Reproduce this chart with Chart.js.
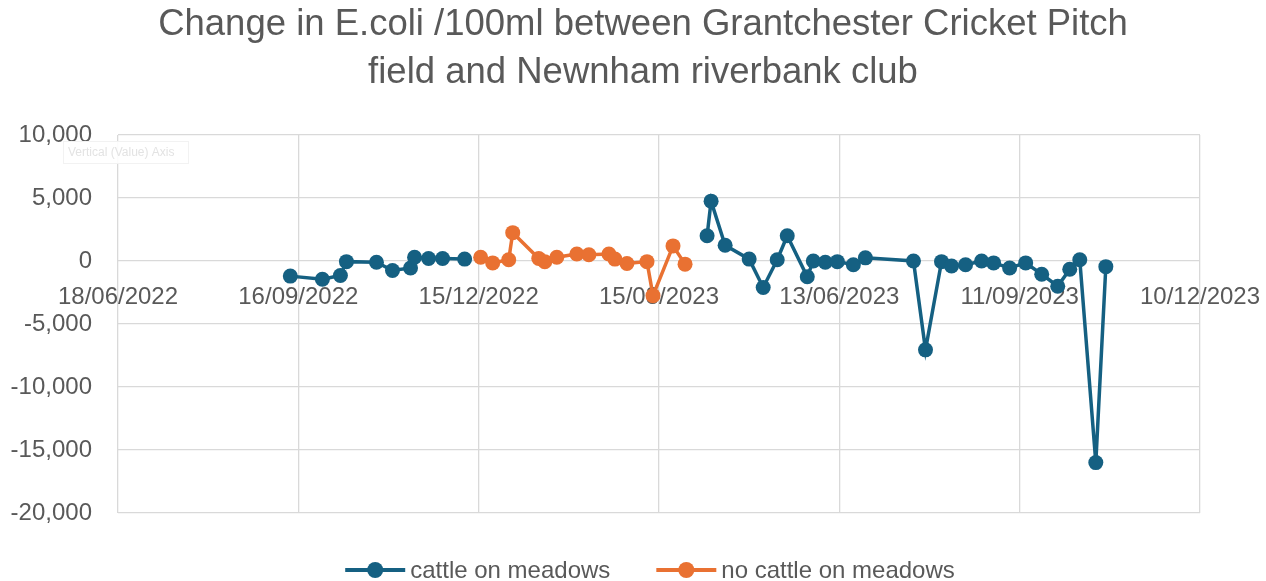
<!DOCTYPE html>
<html>
<head>
<meta charset="utf-8">
<script src="https://cdn.jsdelivr.net/npm/chart.js@4.4.1/dist/chart.umd.min.js"></script>
<style>
  html, body { margin: 0; padding: 0; background: #ffffff; }
  #wrap { width: 1266px; height: 581px; }
</style>
</head>
<body>
<div id="wrap"><canvas id="c" width="1266" height="581"></canvas></div>
<script>
// ---- Data ----
const titleLines = ['Change in E.coli /100ml between Grantchester Cricket Pitch', 'field and Newnham riverbank club'];
const seriesNames = ['cattle on meadows', 'no cattle on meadows'];
const dates = [
  '2022-09-12','2022-09-28','2022-10-07','2022-10-10','2022-10-25','2022-11-02','2022-11-11','2022-11-13','2022-11-20','2022-11-27','2022-12-08',
  '2022-12-16','2022-12-22','2022-12-30','2023-01-01','2023-01-14','2023-01-17','2023-01-23','2023-02-02','2023-02-08','2023-02-18','2023-02-21','2023-02-27','2023-03-09','2023-03-12','2023-03-22','2023-03-28',
  '2023-04-08','2023-04-10','2023-04-17','2023-04-29','2023-05-06','2023-05-13','2023-05-18','2023-05-28','2023-05-31','2023-06-06','2023-06-12','2023-06-20','2023-06-26',
  '2023-07-20','2023-07-26','2023-08-03','2023-08-08','2023-08-15','2023-08-23','2023-08-29','2023-09-06','2023-09-14','2023-09-22','2023-09-30','2023-10-06','2023-10-11','2023-10-19','2023-10-24'
];
const cattle = [
  -1200,-1450,-1150,-50,-100,-750,-550,300,200,200,150,
  null,null,null,null,null,null,null,null,null,null,null,null,null,null,null,null,
  2000,4750,1250,150,-2100,100,2000,-1250,0,-100,-50,-300,250,
  0,-7050,-50,-400,-300,0,-150,-550,-150,-1050,-2000,-650,100,-16000,-450
];
const noCattle = [
  null,null,null,null,null,null,null,null,null,null,null,
  300,-150,100,2250,200,-50,300,550,500,550,150,-200,-50,-2750,1200,-250,
  null,null,null,null,null,null,null,null,null,null,null,null,null,
  null,null,null,null,null,null,null,null,null,null,null,null,null,null,null
];
const xTickDates = ['2022-06-18','2022-09-16','2022-12-15','2023-03-15','2023-06-13','2023-09-11','2023-12-10'];
const yTicks = [-20000,-15000,-10000,-5000,0,5000,10000];

// ---- Helpers ----
const DAY = 86400000;
function dayNum(s) { const p = s.split('-').map(Number); return Date.UTC(p[0], p[1]-1, p[2]) / DAY; }
function fmtDate(v) {
  const d = new Date(Math.round(v) * DAY);
  const dd = String(d.getUTCDate()).padStart(2,'0');
  const mm = String(d.getUTCMonth()+1).padStart(2,'0');
  return dd + '/' + mm + '/' + d.getUTCFullYear();
}
function fmtNum(v) { return v.toLocaleString('en-US'); }

const BLUE = '#156082', ORANGE = '#E97132', TEXT = '#595959', GRID = '#d9d9d9';
const FONT = "'Liberation Sans', Arial, sans-serif";

const decorPlugin = {
  id: 'decor',
  afterDraw(chart) {
    const ctx = chart.ctx;
    ctx.save();
    // Title (two centred lines)
    ctx.fillStyle = TEXT;
    ctx.font = '36.5px ' + FONT;
    ctx.textAlign = 'center';
    ctx.textBaseline = 'alphabetic';
    titleLines.forEach((t, i) => ctx.fillText(t, 643, 35 + i * 48));

    // Legend
    const colors = [BLUE, ORANGE];
    ctx.font = '24px ' + FONT;
    ctx.textAlign = 'left';
    ctx.textBaseline = 'middle';
    const symW = 60, gapT = 5, gapItem = 46;
    const widths = seriesNames.map(n => ctx.measureText(n).width);
    const total = widths.reduce((a,b)=>a+b,0) + seriesNames.length*(symW+gapT) + gapItem*(seriesNames.length-1);
    let x = 650 - total/2;
    const y = 570;
    seriesNames.forEach((n,i) => {
      ctx.strokeStyle = colors[i];
      ctx.lineWidth = 4;
      ctx.beginPath(); ctx.moveTo(x, y); ctx.lineTo(x+symW, y); ctx.stroke();
      ctx.fillStyle = colors[i];
      ctx.beginPath(); ctx.arc(x+symW/2, y, 8, 0, Math.PI*2); ctx.fill();
      ctx.fillStyle = TEXT;
      ctx.fillText(n, x+symW+gapT, y + 1);
      x += symW + gapT + widths[i] + gapItem;
    });

    // faint leftover axis tooltip seen in the reference
    ctx.fillStyle = 'rgba(255,255,255,0.9)';
    ctx.fillRect(63, 141, 125, 22);
    ctx.strokeStyle = '#f2f2f2';
    ctx.lineWidth = 1;
    ctx.strokeRect(63.5, 141.5, 125, 22);
    ctx.fillStyle = '#e3e3e3';
    ctx.font = '12px ' + FONT;
    ctx.textBaseline = 'middle';
    ctx.fillText('Vertical (Value) Axis', 68, 153);
    ctx.restore();
  }
};

new Chart(document.getElementById('c'), {
  type: 'line',
  data: {
    datasets: [
      {
        label: seriesNames[0],
        data: dates.map((d,i) => ({x: dayNum(d), y: cattle[i]})),
        borderColor: BLUE, backgroundColor: BLUE,
        pointBackgroundColor: BLUE, pointBorderColor: BLUE,
        borderWidth: 3.5, pointRadius: 7.5, pointHoverRadius: 7.5, pointBorderWidth: 0,
        tension: 0, spanGaps: false
      },
      {
        label: seriesNames[1],
        data: dates.map((d,i) => ({x: dayNum(d), y: noCattle[i]})),
        borderColor: ORANGE, backgroundColor: ORANGE,
        pointBackgroundColor: ORANGE, pointBorderColor: ORANGE,
        borderWidth: 3.5, pointRadius: 7.5, pointHoverRadius: 7.5, pointBorderWidth: 0,
        tension: 0, spanGaps: false
      }
    ]
  },
  options: {
    responsive: false,
    animation: false,
    devicePixelRatio: 1,
    layout: { padding: { left: 0, right: 66, top: 135, bottom: 68 } },
    plugins: {
      legend: { display: false },
      tooltip: { enabled: false },
      title: { display: false }
    },
    scales: {
      x: {
        type: 'linear',
        position: { y: 0 },
        min: dayNum(xTickDates[0]),
        max: dayNum(xTickDates[xTickDates.length-1]),
        afterBuildTicks(scale) { scale.ticks = xTickDates.map(d => ({value: dayNum(d)})); },
        afterFit(scale) { scale.paddingLeft = 0; scale.paddingRight = 0; },
        grid: { color: GRID, lineWidth: 1.3, drawTicks: false },
        border: { display: false },
        ticks: {
          color: TEXT, font: { family: FONT, size: 24 }, padding: 22,
          maxRotation: 0, autoSkip: false,
          callback: (v) => fmtDate(v)
        }
      },
      y: {
        type: 'linear',
        min: yTicks[0], max: yTicks[yTicks.length-1],
        afterBuildTicks(scale) { scale.ticks = yTicks.map(v => ({value: v})); },
        afterFit(scale) { scale.width = 118; scale.paddingTop = 0; scale.paddingBottom = 0; },
        grid: { color: GRID, lineWidth: 1.3, drawTicks: false },
        border: { display: false },
        ticks: {
          color: TEXT, font: { family: FONT, size: 24 }, padding: 26,
          callback: (v) => fmtNum(v)
        }
      }
    }
  },
  plugins: [decorPlugin]
});
</script>
</body>
</html>
